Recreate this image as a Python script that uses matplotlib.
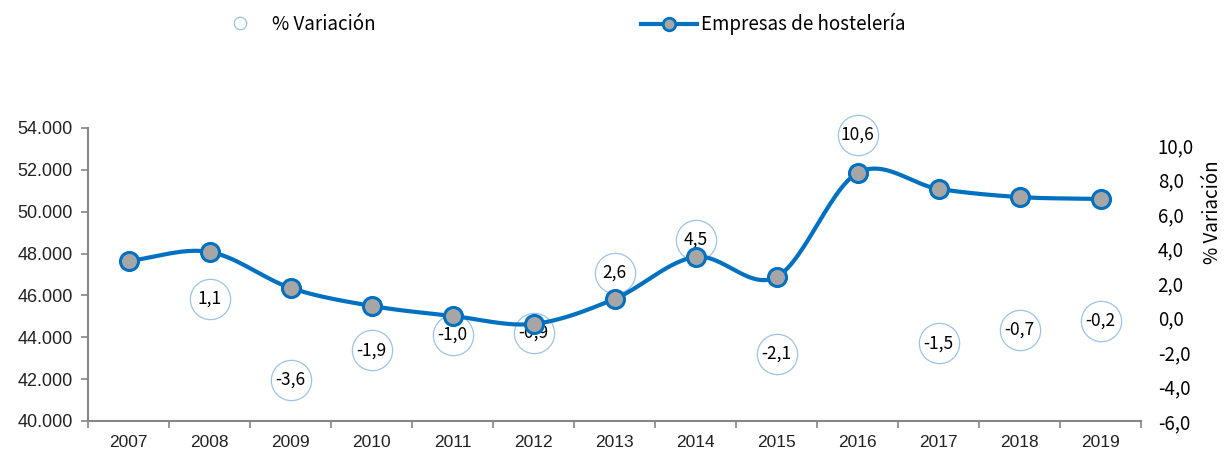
import matplotlib
matplotlib.use("Agg")
import matplotlib.pyplot as plt
import numpy as np
from matplotlib.lines import Line2D
from matplotlib.ticker import FuncFormatter

years = ["2007", "2008", "2009", "2010", "2011", "2012", "2013",
         "2014", "2015", "2016", "2017", "2018", "2019"]
empresas = [47650, 48080, 46360, 45500, 45020, 44640, 45830,
            47840, 46880, 51850, 51090, 50700, 50610]
variacion = [None, 1.1, -3.6, -1.9, -1.0, -0.9, 2.6,
             4.5, -2.1, 10.6, -1.5, -0.7, -0.2]
left_ticks = [40000, 42000, 44000, 46000, 48000, 50000, 52000, 54000]
right_ticks = [-6, -4, -2, 0, 2, 4, 6, 8, 10]

BLUE = "#0070C0"
LIGHT = "#9DC3E6"
GREY_AX = "#868686"
SANS2 = ["Noto Sans CJK SC", "DejaVu Sans"]
ARIAL = ["Liberation Sans", "DejaVu Sans"]

def catmull_rom(x, y, n=30):
    x = np.asarray(x, float); y = np.asarray(y, float)
    px = np.concatenate([[2 * x[0] - x[1]], x, [2 * x[-1] - x[-2]]])
    py = np.concatenate([[2 * y[0] - y[1]], y, [2 * y[-1] - y[-2]]])
    xs, ys = [], []
    for i in range(1, len(px) - 2):
        t = np.linspace(0, 1, n, endpoint=False)
        for arr, out in ((px, xs), (py, ys)):
            p0, p1, p2, p3 = arr[i - 1], arr[i], arr[i + 1], arr[i + 2]
            out.append(0.5 * ((2 * p1) + (-p0 + p2) * t
                              + (2 * p0 - 5 * p1 + 4 * p2 - p3) * t ** 2
                              + (-p0 + 3 * p1 - 3 * p2 + p3) * t ** 3))
    xs.append([x[-1]]); ys.append([y[-1]])
    return np.concatenate(xs), np.concatenate(ys)

fig = plt.figure(figsize=(12.26, 4.53), dpi=100)
ax = fig.add_axes([88 / 1226, 1 - 421 / 453, (1141 - 88) / 1226, (421 - 128) / 453])
ax2 = ax.twinx()
ax.set_zorder(2)
ax.patch.set_visible(False)

xi = np.arange(len(years))

# bubbles (% variacion) on right axis
vx = [i for i, v in zip(xi, variacion) if v is not None]
vy = [v for v in variacion if v is not None]
ax2.plot(vx, vy, linestyle="none", marker="o", markersize=29, clip_on=False,
         markerfacecolor="white", markeredgecolor=LIGHT, markeredgewidth=0.9)
for x, v in zip(vx, vy):
    ax2.text(x, v, f"{v:.1f}".replace(".", ","), ha="center", va="center",
             fontsize=12.5, family=SANS2, color="#000000", zorder=5, clip_on=False)
ax2.set_ylim(-6, 10.99)
ax2.set_yticks(right_ticks)
ax2.yaxis.set_major_formatter(FuncFormatter(lambda v, p: f"{v:.1f}".replace(".", ",")))
ax2.tick_params(axis="y", length=0, pad=12, labelsize=13.5)
for lab in ax2.get_yticklabels():
    lab.set_family(SANS2)
for s in ax2.spines.values():
    s.set_visible(False)

# line
sx, sy = catmull_rom(xi, empresas)
ax.plot(sx, sy, color=BLUE, linewidth=3, solid_capstyle="round", zorder=3)
ax.plot(xi, empresas, linestyle="none", marker="o", markersize=13,
        markerfacecolor="#A6A6A6", markeredgecolor=BLUE, markeredgewidth=2.2, zorder=4)
ax.set_ylim(40000, 54000)
ax.set_yticks(left_ticks)
ax.yaxis.set_major_formatter(FuncFormatter(lambda v, p: f"{int(v):,}".replace(",", ".")))
ax.set_xlim(-0.5, len(years) - 0.5)
ax.set_xticks(xi)
ax.set_xticklabels(years)
ax.set_xticks(np.arange(-0.5, len(years), 1.0), minor=True)
ax.tick_params(axis="x", which="major", length=0, pad=10, labelsize=12.5)
ax.tick_params(axis="x", which="minor", length=5, width=1.2, color=GREY_AX, direction="out")
ax.tick_params(axis="y", length=5, width=1.2, color=GREY_AX, labelsize=13, pad=6)
for lab in ax.get_xticklabels() + ax.get_yticklabels():
    lab.set_family(ARIAL)
    lab.set_color("#222222")
for k in ["top", "right"]:
    ax.spines[k].set_visible(False)
for k in ["left", "bottom"]:
    ax.spines[k].set_color(GREY_AX)
    ax.spines[k].set_linewidth(1.5)

fig.text(1213 / 1226, 1 - 212 / 453, "% Variación", rotation=90, ha="center", va="center",
         fontsize=13.5, family=SANS2)

# legends
h1 = Line2D([], [], linestyle="none", marker="o", markersize=9,
            markerfacecolor="white", markeredgecolor=LIGHT, markeredgewidth=0.9)
h2 = Line2D([], [], color=BLUE, linewidth=3, marker="o", markersize=9,
            markerfacecolor="#A6A6A6", markeredgecolor=BLUE, markeredgewidth=2)
leg1 = fig.legend([h1], ["% Variación"], loc="center left",
                  bbox_to_anchor=(212 / 1226, 1 - 24 / 453), frameon=False,
                  handlelength=1.2, handletextpad=1.1, prop={"family": SANS2, "size": 13.5})
leg2 = fig.legend([h2], ["Empresas de hostelería"], loc="center left",
                  bbox_to_anchor=(624 / 1226, 1 - 24 / 453), frameon=False,
                  handlelength=3.0, handletextpad=0.2, prop={"family": SANS2, "size": 13.5})

fig.savefig("out.png", dpi=100)
